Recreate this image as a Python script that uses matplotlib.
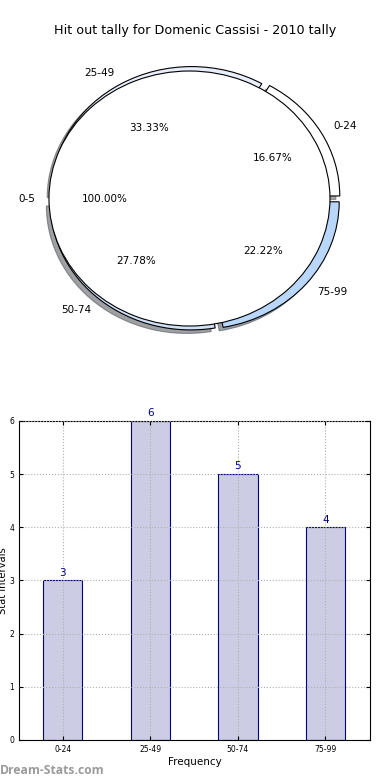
import matplotlib
matplotlib.use("Agg")
import matplotlib.pyplot as plt

# data
intervals = ["0-24", "25-49", "50-74", "75-99"]
tally = [3, 6, 5, 4]
inner_label = ["0-5"]
inner_value = [1]
pie_colors = ["#ffffff", "#e8eefa", "#cfe0f8", "#b9d7fb"]

fig = plt.figure(figsize=(3.9, 7.8), dpi=100)
fig.text(0.5, 0.961, "Hit out tally for Domenic Cassisi - 2010 tally",
         ha="center", va="center", fontsize=9.2)

## PIE
ax1 = fig.add_axes([0.0301, 0.533, 0.9367, 0.425])
ax1.pie(tally, labels=intervals, colors=pie_colors, explode=[0.04] * 4,
        autopct="%.2f%%", shadow=True, startangle=0,
        wedgeprops=dict(edgecolor="black", linewidth=0.8),
        textprops=dict(fontsize=7.5))
ax1.pie(inner_value, labels=inner_label, colors=["white"], explode=[0.035],
        autopct="%.2f%%", startangle=0,
        wedgeprops=dict(edgecolor="black", linewidth=0.8),
        textprops=dict(fontsize=7.5))
ax1.set_aspect("auto")
ax1.set_xlim(-1.3, 1.3)
ax1.set_ylim(-1.3, 1.3)

## BARS
ax2 = fig.add_axes([0.0487, 0.0513, 0.9, 0.409])
pos = range(len(tally))
bars = ax2.bar(pos, tally, width=0.45, color="#cccce4",
               edgecolor="navy", linewidth=0.8, zorder=2)
for b, v in zip(bars, tally):
    ax2.text(b.get_x() + b.get_width() / 2, v + 0.05, str(v),
             ha="center", va="bottom", color="navy", fontsize=7.5)
ax2.set_xlim(-0.5, 3.51)
ax2.set_ylim(0, 6)
ax2.set_xticks(list(pos))
ax2.set_xticklabels(intervals)
ax2.tick_params(labelsize=5.5, direction="in", top=True, right=True, length=3)
ax2.grid(True, linestyle=":", color="#b0b0b0", linewidth=0.8, zorder=3)
ax2.set_axisbelow(False)
ax2.set_ylabel("Stat Intervals", fontsize=7.2)
ax2.yaxis.set_label_coords(-0.03, 0.5)
ax2.set_xlabel("Frequency", fontsize=7.5, labelpad=2)

fig.text(0.0, 0.004, "Dream-Stats.com", color="#9a9a9a", fontsize=8.7,
         fontweight="bold", family="Open Sans", ha="left", va="bottom")

fig.savefig("out.png", dpi=100)
